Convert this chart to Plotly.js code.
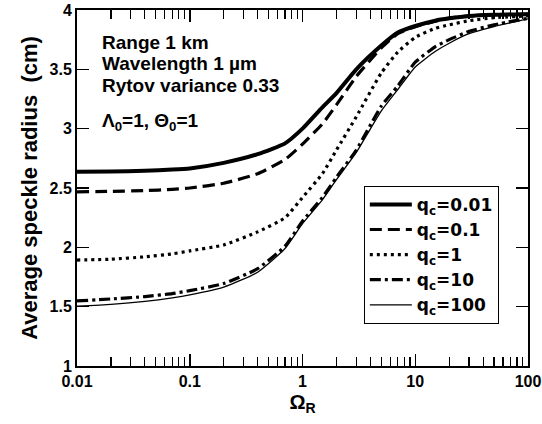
<!DOCTYPE html>
<html>
<head>
<meta charset="utf-8">
<script src="https://cdn.plot.ly/plotly-3.0.1.min.js"></script>
<style>
html,body{margin:0;padding:0;background:#fff;}
#chart{width:542px;height:424px;}
</style>
</head>
<body>
<div id="chart"></div>
<script>
// Data
const omegaR = [0.01, 0.02, 0.04, 0.07, 0.1, 0.2, 0.4, 0.7, 1, 1.5, 2, 3, 5, 7, 10, 15, 20, 30, 50, 100];
const qc001  = [2.637, 2.638, 2.645, 2.655, 2.665, 2.712, 2.785, 2.876, 3.00, 3.18, 3.30, 3.50, 3.70, 3.81, 3.865, 3.91, 3.93, 3.95, 3.96, 3.965];
const qc01   = [2.468, 2.472, 2.478, 2.488, 2.50, 2.54, 2.62, 2.74, 2.87, 3.04, 3.20, 3.44, 3.68, 3.80, 3.86, 3.905, 3.93, 3.95, 3.96, 3.965];
const qc1    = [1.893, 1.90, 1.92, 1.945, 1.97, 2.02, 2.13, 2.25, 2.42, 2.62, 2.82, 3.10, 3.47, 3.645, 3.77, 3.845, 3.875, 3.91, 3.935, 3.95];
const qc10   = [1.548, 1.565, 1.585, 1.61, 1.635, 1.695, 1.82, 2.01, 2.22, 2.42, 2.59, 2.82, 3.19, 3.36, 3.56, 3.69, 3.75, 3.82, 3.875, 3.93];
const qc100  = [1.505, 1.52, 1.545, 1.575, 1.60, 1.665, 1.79, 1.99, 2.20, 2.40, 2.57, 2.80, 3.15, 3.33, 3.52, 3.65, 3.72, 3.80, 3.86, 3.925];
const seriesNames = ['q<sub>c</sub>=0.01', 'q<sub>c</sub>=0.1', 'q<sub>c</sub>=1', 'q<sub>c</sub>=10', 'q<sub>c</sub>=100'];
const seriesValues = [qc001, qc01, qc1, qc10, qc100];
const noteLines = ['Range 1 km', 'Wavelength 1 \u00b5m', 'Rytov variance 0.33', '\u039b<sub>0</sub>=1, \u0398<sub>0</sub>=1'];
const majorTicks = [0.01, 0.1, 1, 10, 100];
const decades = [0.01, 0.1, 1, 10];
const minorDigits = [2, 3, 4, 5, 6, 7, 8, 9];
const minorTicks = [];
decades.forEach(d => minorDigits.forEach(m => minorTicks.push(+(d * m).toPrecision(3))));

const styles = [
  {width: 4, dash: 'solid'},
  {width: 3.2, dash: '12px,6px'},
  {width: 3.2, dash: '3px,4px'},
  {width: 3.2, dash: '11px,4px,3px,4px'},
  {width: 1.3, dash: 'solid'}
];

const FONT = 'Arial, "Liberation Sans", sans-serif';

const traces = seriesValues.map((v, i) => ({
  x: omegaR, y: v, type: 'scatter', mode: 'lines',
  name: '<b>' + seriesNames[i] + '</b>',
  line: {color: 'black', width: styles[i].width, dash: styles[i].dash, shape: 'spline', smoothing: 0.5}
}));
// invisible helper traces so that the extra tick axes (top / right / minor) are drawn
[['x2', 'y'], ['x3', 'y'], ['x4', 'y'], ['x', 'y2']].forEach(([xa, ya]) => {
  traces.push({x: omegaR, y: qc100, xaxis: xa, yaxis: ya, type: 'scatter', mode: 'lines',
    line: {width: 0, color: 'rgba(0,0,0,0)'}, showlegend: false, hoverinfo: 'skip'});
});

const noteY = [0.910, 0.851, 0.789, 0.685];
const annotations = noteLines.map((t, i) => ({
  xref: 'paper', yref: 'paper', x: 0.051, y: noteY[i], xanchor: 'left', yanchor: 'middle',
  text: '<b>' + t + '</b>', showarrow: false,
  font: {family: FONT, size: 19, color: 'black'}
}));

const tickAxis = (side, vals, len, width) => ({
  type: 'log', range: [-2, 2], overlaying: 'x', anchor: 'y', side: side,
  tickmode: 'array', tickvals: vals, showticklabels: false,
  ticks: 'inside', ticklen: len, tickwidth: width, tickcolor: 'black',
  showline: false, showgrid: false, zeroline: false
});

const layout = {
  width: 542, height: 424,
  margin: {l: 77, r: 14, t: 10, b: 58},
  paper_bgcolor: 'white', plot_bgcolor: 'white',
  font: {family: FONT, color: 'black'},
  showlegend: true,
  legend: {
    x: 0.636, y: 0.506, xanchor: 'left', yanchor: 'top',
    bordercolor: 'black', borderwidth: 1, bgcolor: 'white',
    font: {family: '"DejaVu Sans", sans-serif', size: 17, color: 'black'},
    itemwidth: 42, tracegroupgap: 0
  },
  xaxis: {
    type: 'log', range: [-2, 2],
    tickmode: 'linear', tick0: 0, dtick: 1, exponentformat: 'none',
    ticks: 'inside', ticklen: 12, tickwidth: 1.5, tickcolor: 'black',
    showline: true, linecolor: 'black', linewidth: 2, mirror: true,
    showgrid: false, zeroline: false,
    tickfont: {family: FONT, size: 16, color: 'black', weight: 'bold'},
    title: {text: '<b>\u03a9<sub>R</sub></b>', font: {family: FONT, size: 20, color: 'black'}, standoff: 6}
  },
  xaxis2: tickAxis('top', majorTicks, 12, 1.5),
  xaxis3: tickAxis('bottom', minorTicks, 9, 1.2),
  xaxis4: tickAxis('top', minorTicks, 9, 1.2),
  yaxis: {
    range: [1, 4], dtick: 0.5, tick0: 1,
    ticks: 'inside', ticklen: 12, tickwidth: 1.5, tickcolor: 'black',
    showline: true, linecolor: 'black', linewidth: 2, mirror: true,
    showgrid: false, zeroline: false,
    tickfont: {family: FONT, size: 16, color: 'black', weight: 'bold'},
    title: {text: '<b>Average speckle radius \u00a0(cm)</b>', font: {family: FONT, size: 22, color: 'black'}, standoff: 6}
  },
  yaxis2: {
    range: [1, 4], dtick: 0.5, tick0: 1, overlaying: 'y', anchor: 'x', side: 'right',
    ticks: 'inside', ticklen: 12, tickwidth: 1.5, tickcolor: 'black',
    showticklabels: false, showline: false, showgrid: false, zeroline: false
  },
  annotations: annotations
};

Plotly.newPlot('chart', traces, layout, {staticPlot: true, displayModeBar: false});
</script>
</body>
</html>
